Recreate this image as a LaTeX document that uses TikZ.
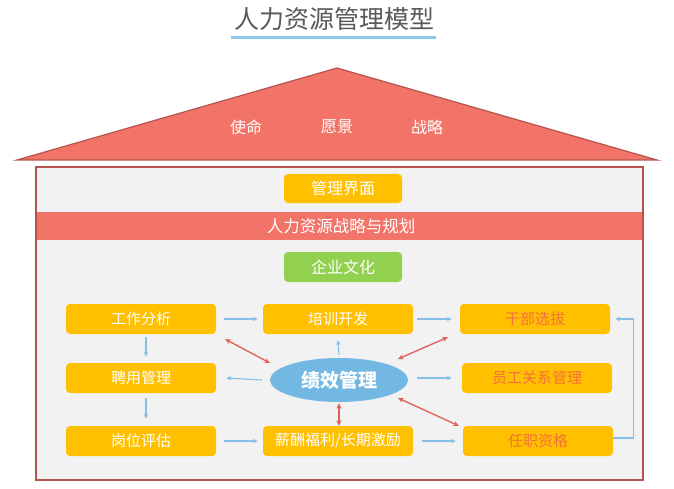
\documentclass[tikz,border=0pt]{standalone}
\usepackage{fontspec}
\setmainfont{Noto Sans CJK SC}
\usetikzlibrary{arrows.meta,shapes.geometric}
\definecolor{titlegray}{HTML}{595959}
\definecolor{ublue}{HTML}{8CC8EA}
\definecolor{roofred}{HTML}{F27468}
\definecolor{roofedge}{HTML}{B5544E}
\definecolor{bodygray}{HTML}{F2F2F2}
\definecolor{bandred}{HTML}{F27468}
\definecolor{boxyellow}{HTML}{FFC000}
\definecolor{boxgreen}{HTML}{92D050}
\definecolor{ellblue}{HTML}{72B8E3}
\definecolor{arrblue}{HTML}{86C0E6}
\definecolor{arrred}{HTML}{DE5E58}
\definecolor{txtorange}{HTML}{F5703C}
\begin{document}
\begin{tikzpicture}[x=1pt,y=-1pt,
  ybox/.style={rounded corners=4pt,fill=boxyellow,minimum width=150pt,minimum height=30pt,
    inner sep=0pt,text=white,font=\fontsize{15}{15}\selectfont},
  obox/.style={ybox,text=txtorange},
  topbox/.style={ybox,minimum width=118pt,minimum height=29pt,font=\fontsize{16}{16}\selectfont},
  barrow/.style={draw=arrblue,line width=1.1pt,-{Stealth[length=5pt,width=4.5pt]}},
  rarrow/.style={draw=arrred,line width=1.3pt,{Stealth[length=5.5pt,width=5pt]}-{Stealth[length=5.5pt,width=5pt]}},
  rooftext/.style={text=white,font=\fontsize{16}{16}\selectfont}]
\useasboundingbox[fill=white] (0,0) rectangle (674,489);
% title
\node[font=\fontsize{25}{25}\selectfont,text=titlegray] (title) at (334,19) {人力资源管理模型};
\draw[draw=ublue,line width=3pt] (231,38) -- (436,38);
% roof
\filldraw[fill=roofred,draw=roofedge,line width=1.2pt] (17,160) -- (337,68) -- (657,160) -- cycle;
\node[rooftext] (mission) at (246,127) {使命};
\node[rooftext] (vision) at (337,127) {愿景};
\node[rooftext] (strategy) at (427,127) {战略};
% body
\filldraw[fill=bodygray,draw=roofedge,line width=1.2pt] (36,167) rectangle (643,480);
\fill[bandred] (36.6,212) rectangle (642.4,240);
\node[text=white,font=\fontsize{16.5}{16.5}\selectfont] (band) at (341,226) {人力资源战略与规划};
\node[topbox] (mgmt) at (343,188.5) {管理界面};
\node[topbox,fill=boxgreen,minimum height=30pt] (culture) at (343,267) {企业文化};
% grid
\node[ybox] (gzfx) at (141,319) {工作分析};
\node[ybox] (pxkf) at (338,319) {培训开发};
\node[obox] (gbxb) at (535,319) {干部选拔};
\node[ybox] (pygl) at (141,378) {聘用管理};
\node[ellipse,fill=ellblue,minimum width=138pt,minimum height=44pt,inner sep=0pt,
  text=white,font=\bfseries\fontsize{19}{19}\selectfont] (jxgl) at (339,380) {绩效管理};
\node[obox] (ygxg) at (537,378) {员工关系管理};
\node[ybox] (gwpg) at (141,441) {岗位评估};
\node[ybox] (xcfl) at (338,441) {薪酬福利/长期激励};
\node[obox] (rzzg) at (538,441) {任职资格};
% blue arrows
\draw[barrow] ([xshift=8pt]gzfx.east) -- ([xshift=-5pt]pxkf.west);
\draw[barrow] ([xshift=4pt]pxkf.east) -- ([xshift=-8pt]gbxb.west);
\draw[barrow] ([shift={(5,3)}]gzfx.south) -- ([shift={(5,-6)}]pygl.north);
\draw[barrow] ([shift={(5,5)}]pygl.south) -- ([shift={(5,-7)}]gwpg.north);
\draw[barrow] ([xshift=-8pt]jxgl.west) -- ([xshift=10pt]pygl.east);
\draw[barrow] ([yshift=3pt]jxgl.north) -- ([yshift=-6pt]pxkf.south);
\draw[barrow] ([xshift=9pt]jxgl.east |- ygxg.west) -- ([xshift=-10pt]ygxg.west);
\draw[barrow] ([xshift=8pt]gwpg.east) -- ([xshift=-5pt]xcfl.west);
\draw[barrow] ([xshift=9pt]xcfl.east) -- ([xshift=-7pt]rzzg.west);
\coordinate (elbowb) at ([shift={(20,-3)}]rzzg.east);
\coordinate (elbowt) at (elbowb |- gbxb.east);
\draw[barrow] ([yshift=3pt]rzzg.east) -- (elbowb) -- (elbowt) -- ([xshift=5pt]gbxb.east);
% red double arrows
\draw[rarrow] ([shift={(9,5)}]gzfx.south east) -- ([shift={(-69,-17)}]jxgl.center);
\draw[rarrow] ([shift={(59,-21)}]jxgl.center) -- ([shift={(-12,3)}]gbxb.south west);
\draw[rarrow] ([shift={(59,18)}]jxgl.center) -- ([shift={(-4,0)}]rzzg.north west);
\draw[rarrow] ([yshift=-1pt]jxgl.south) -- (jxgl.south |- xcfl.north);
\end{tikzpicture}
\end{document}
